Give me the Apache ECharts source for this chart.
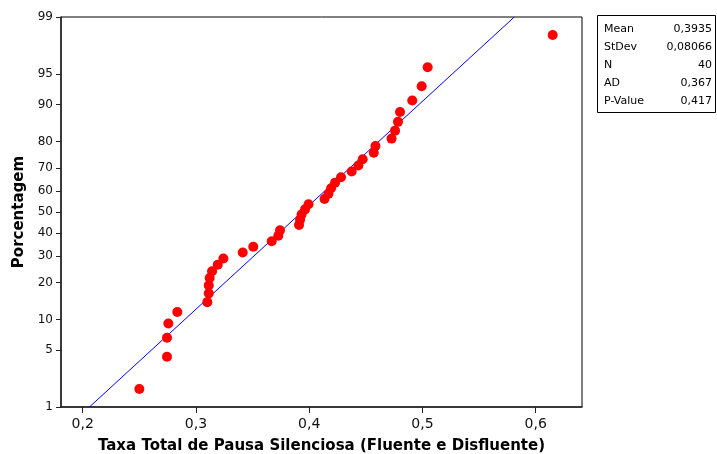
<!DOCTYPE html>
<html>
<head>
<meta charset="utf-8">
<script src="https://cdn.jsdelivr.net/npm/echarts@6/dist/echarts.min.js"></script>
<style>
html,body{margin:0;padding:0;background:#fff;}
#chart{width:717px;height:454px;}
</style>
</head>
<body>
<div id="chart"></div>
<script>
// ---- data ----
const xValues = [0.2500, 0.2744, 0.2744, 0.2756, 0.2835, 0.3100, 0.3113, 0.3113, 0.3121, 0.3142,
                 0.3192, 0.3242, 0.3413, 0.3506, 0.3669, 0.3727, 0.3742, 0.3910, 0.3919, 0.3932,
                 0.3963, 0.3994, 0.4135, 0.4170, 0.4193, 0.4228, 0.4281, 0.4375, 0.4434, 0.4472,
                 0.4570, 0.4585, 0.4727, 0.4758, 0.4784, 0.4802, 0.4910, 0.4993, 0.5046, 0.6150];
const percentValues = [1.733, 4.208, 6.683, 9.158, 11.634, 14.109, 16.584, 19.059, 21.535, 24.010,
                       26.485, 28.960, 31.436, 33.911, 36.386, 38.861, 41.337, 43.812, 46.287, 48.762,
                       51.238, 53.713, 56.188, 58.663, 61.139, 63.614, 66.089, 68.564, 71.040, 73.515,
                       75.990, 78.465, 80.941, 83.416, 85.891, 88.366, 90.842, 93.317, 95.792, 98.267];
const fitX = [0.2059, 0.5811];
const fitP = [1, 99];
const xTicks = [0.2, 0.3, 0.4, 0.5, 0.6];
const yTicks = [1, 5, 10, 20, 30, 40, 50, 60, 70, 80, 90, 95, 99];
const statLabels = ['Mean', 'StDev', 'N', 'AD', 'P-Value'];
const statValues = ['0,3935', '0,08066', '40', '0,367', '0,417'];
const xTitle = 'Taxa Total de Pausa Silenciosa (Fluente e Disfluente)';
const yTitle = 'Porcentagem';

// normal probability scale transform (inverse normal CDF, Acklam)
function probit(p) {
  const a = [-3.969683028665376e+01, 2.209460984245205e+02, -2.759285104469687e+02, 1.383577518672690e+02, -3.066479806614716e+01, 2.506628277459239e+00];
  const b = [-5.447609879822406e+01, 1.615858368580409e+02, -1.556989798598866e+02, 6.680131188771972e+01, -1.328068155288572e+01];
  const c = [-7.784894002430293e-03, -3.223964580411365e-01, -2.400758277161838e+00, -2.549732539343734e+00, 4.374664141464968e+00, 2.938163982698783e+00];
  const d = [7.784695709041462e-03, 3.224671290700398e-01, 2.445134137142996e+00, 3.754408661907416e+00];
  const pl = 0.02425, ph = 1 - pl;
  let q, r;
  if (p < pl) {
    q = Math.sqrt(-2 * Math.log(p));
    return (((((c[0]*q+c[1])*q+c[2])*q+c[3])*q+c[4])*q+c[5]) / ((((d[0]*q+d[1])*q+d[2])*q+d[3])*q+1);
  } else if (p <= ph) {
    q = p - 0.5; r = q*q;
    return (((((a[0]*r+a[1])*r+a[2])*r+a[3])*r+a[4])*r+a[5])*q / (((((b[0]*r+b[1])*r+b[2])*r+b[3])*r+b[4])*r+1);
  } else {
    q = Math.sqrt(-2 * Math.log(1 - p));
    return -(((((c[0]*q+c[1])*q+c[2])*q+c[3])*q+c[4])*q+c[5]) / ((((d[0]*q+d[1])*q+d[2])*q+d[3])*q+1);
  }
}
const zOf = p => probit(p / 100);
const yTickZ = yTicks.map(zOf);

const chart = echarts.init(document.getElementById('chart'), null, {renderer: 'canvas'});
const FONT = 'DejaVu Sans';

const statGraphics = [{
  type: 'rect', shape: {x: 597.5, y: 15.5, width: 118, height: 97},
  style: {fill: '#fff', stroke: '#000', lineWidth: 1}
}];
statLabels.forEach((l, i) => {
  statGraphics.push({type: 'text', x: 604, y: 29 + i * 18,
    style: {text: l, font: '11px ' + FONT, fill: '#000', verticalAlign: 'middle'}});
  statGraphics.push({type: 'text', x: 712, y: 29 + i * 18,
    style: {text: statValues[i], font: '11px ' + FONT, fill: '#000', align: 'right', verticalAlign: 'middle'}});
});

chart.setOption({
  animation: false,
  backgroundColor: '#fff',
  grid: {left: 61, top: 17, right: 135, bottom: 47, show: true, borderColor: '#000', borderWidth: 1,
         containLabel: false, outerBoundsMode: 'none'},
  xAxis: {
    type: 'value', min: 0.1808, max: 0.6409,
    name: xTitle, nameLocation: 'middle', nameGap: 32,
    nameTextStyle: {fontFamily: FONT, fontWeight: 'bold', fontSize: 15, color: '#000'},
    axisLine: {show: true, onZero: false, lineStyle: {color: '#222', width: 1.5}},
    axisTick: {show: true, length: 6, inside: false, customValues: xTicks, lineStyle: {color: '#222'}},
    axisLabel: {customValues: xTicks, margin: 10, fontFamily: FONT, fontSize: 14, color: '#111',
      formatter: v => v.toFixed(1).replace('.', ',')},
    splitLine: {show: false}
  },
  yAxis: {
    type: 'value', min: zOf(1), max: zOf(99),
    name: yTitle, nameLocation: 'middle', nameGap: 34, nameRotate: 90,
    nameTextStyle: {fontFamily: FONT, fontWeight: 'bold', fontSize: 15, color: '#000'},
    axisLine: {show: true, onZero: false, lineStyle: {color: '#222', width: 1.5}},
    axisTick: {show: true, length: 5, inside: false, customValues: yTickZ, lineStyle: {color: '#222', width: 1}},
    axisLabel: {customValues: yTickZ, margin: 8, padding: [3, 0, 0, 0], fontFamily: FONT, fontSize: 12, color: '#111',
      formatter: v => {
        let best = yTicks[0], bd = Infinity;
        yTicks.forEach((p, i) => { const dd = Math.abs(yTickZ[i] - v); if (dd < bd) { bd = dd; best = p; } });
        return String(best);
      }},
    splitLine: {show: false}
  },
  series: [
    {
      type: 'line', data: fitX.map((x, i) => [x, zOf(fitP[i])]),
      showSymbol: false, symbol: 'none', lineStyle: {color: '#0000ff', width: 1}, z: 2, silent: true
    },
    {
      type: 'scatter', data: xValues.map((x, i) => [x, zOf(percentValues[i])]),
      symbol: 'circle', symbolSize: 10, itemStyle: {color: '#ff0000', opacity: 1}, z: 3
    }
  ],
  graphic: statGraphics
});
</script>
</body>
</html>
